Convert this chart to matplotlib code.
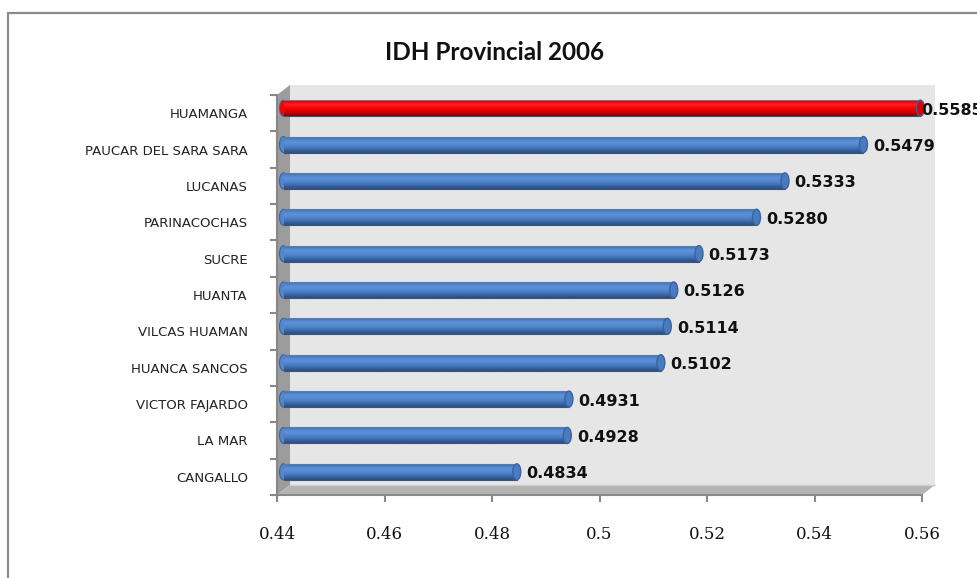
import numpy as np
import matplotlib
matplotlib.use('Agg')
import matplotlib.pyplot as plt
import matplotlib.transforms as mtransforms
from matplotlib.patches import Rectangle, Polygon, Ellipse

# data (top to bottom as in the chart)
provinces = ['HUAMANGA', 'PAUCAR DEL SARA SARA', 'LUCANAS', 'PARINACOCHAS', 'SUCRE',
             'HUANTA', 'VILCAS HUAMAN', 'HUANCA SANCOS', 'VICTOR FAJARDO', 'LA MAR', 'CANGALLO']
idh = [0.5585, 0.5479, 0.5333, 0.5280, 0.5173, 0.5126, 0.5114, 0.5102, 0.4931, 0.4928, 0.4834]
xticks = [0.44, 0.46, 0.48, 0.50, 0.52, 0.54, 0.56]
xtick_labels = ['0.44', '0.46', '0.48', '0.5', '0.52', '0.54', '0.56']

W, H = 978, 578
fig = plt.figure(figsize=(W / 100, H / 100), dpi=100)
fig.patch.set_facecolor('white')

# front plane of the 3D plot, in pixels
x0p, x1p, y0p, y1p = 277, 922, 95, 495
ax = fig.add_axes([x0p / W, 1 - y1p / H, (x1p - x0p) / W, (y1p - y0p) / H])
ax.set_facecolor('none')
xmin, xmax = 0.44, 0.56
n = len(provinces)
for s in ax.spines.values():
    s.set_visible(False)

# depth of the "3D" box, in data units
ddx = 13 * (xmax - xmin) / (x1p - x0p)
ddy = 10 * n / (y1p - y0p)
ybot, ytop = -0.5, n - 0.5

# back wall, side wall, floor
ax.add_patch(Rectangle((xmin + ddx, ybot + ddy), xmax - xmin, n, facecolor='#e6e6e6',
                       edgecolor='none', clip_on=False, zorder=0))
ax.add_patch(Polygon([(xmin, ybot), (xmin, ytop), (xmin + ddx, ytop + ddy), (xmin + ddx, ybot + ddy)],
                     closed=True, facecolor='#9c9c9c', edgecolor='none', clip_on=False, zorder=1))
ax.add_patch(Polygon([(xmin, ybot), (xmax, ybot), (xmax + ddx, ybot + ddy), (xmin + ddx, ybot + ddy)],
                     closed=True, facecolor='#b4b4b4', edgecolor='none', clip_on=False, zorder=1))
ax.plot([xmin + ddx, xmax + ddx], [ybot + ddy, ybot + ddy], color='#cdcdcd', lw=1, clip_on=False, zorder=1)

# axis lines
ax.plot([xmin, xmin], [ybot, ytop], color='#888888', lw=1.5, clip_on=False, zorder=2)
ax.plot([xmin, xmax], [ybot, ybot], color='#888888', lw=1.5, clip_on=False, zorder=2)

# bars (drawn at mid depth)
ypos = np.arange(n)[::-1]
h = 0.44
blue_prof = ['#4a74ad', '#5186cc', '#5b90d8', '#5a8ed6', '#5287cd', '#4a7dc2', '#416fb0', '#36609c', '#2d5289']
red_prof = ['#d00000', '#ff0a0a', '#ff1e1e', '#ff1212', '#fa0000', '#e80000', '#d40000', '#b80000', '#8c0000']


def hex2rgb(c):
    return [int(c[i:i + 2], 16) / 255 for i in (1, 3, 5)]


capw = 8 * (xmax - xmin) / (x1p - x0p)
for i, (yv, v) in enumerate(zip(ypos, idh)):
    prof = red_prof if i == 0 else blue_prof
    grad = np.array([[hex2rgb(c)] for c in prof])
    bx = xmin + ddx / 2
    by = yv + ddy / 2
    ax.add_patch(Ellipse((bx, by), capw, h, facecolor=prof[4], edgecolor='#3b64a0', lw=0.8,
                         clip_on=False, zorder=3))
    bar = ax.barh(by, v - xmin, left=bx, height=h, color=prof[4], edgecolor='none', zorder=3,
                  clip_on=False)[0]
    img = ax.imshow(grad, extent=(bx, v + ddx / 2, by - h / 2, by + h / 2), aspect='auto',
                    interpolation='bilinear', zorder=4, origin='upper')
    img.set_clip_path(bar)
    ax.plot([bx, v + ddx / 2], [by + h / 2, by + h / 2], color='#5b7bab', lw=0.8, zorder=5, clip_on=False)
    ax.plot([bx, v + ddx / 2], [by - h / 2, by - h / 2], color='#34557f', lw=0.8, zorder=5, clip_on=False)
    ax.add_patch(Ellipse((v + ddx / 2, by), capw, h, facecolor='#4a7bc0' if i else '#e00000',
                         edgecolor='#3a63a0', lw=1.0, clip_on=False, zorder=6))
    dx_lab = 7 if i == 0 else 16
    lab_tr = mtransforms.offset_copy(ax.transData, fig=fig, x=dx_lab, y=-2, units='dots')
    ax.text(v, yv + ddy / 2, f'{v:.4f}', transform=lab_tr, ha='left', va='center',
            fontsize=11.5, fontweight='bold', family='DejaVu Sans', color='#111111',
            zorder=7, clip_on=False)

ax.set_xlim(xmin, xmax)
ax.set_ylim(-0.5, n - 0.5)

# ticks
ax.set_yticks(ypos)
ax.set_yticklabels(provinces, fontsize=9.5, color='#222222')
ax.set_yticks(np.arange(n + 1) - 0.5, minor=True)
ax.tick_params(axis='y', which='major', length=0, pad=21)
ax.tick_params(axis='y', which='minor', length=5, width=1.5, color='#888888')
ax.set_xticks(xticks)
ax.set_xticklabels(xtick_labels, fontsize=12, family='DejaVu Serif', color='#111111')
ax.tick_params(axis='x', length=5, width=1.5, color='#888888', pad=17)

# title
fig.text(495 / W, 1 - 53 / H, 'IDH Provincial 2006', ha='center', va='center',
         fontsize=17.5, fontweight='bold', family='Lato', color='#111111')

# outer chart border
fig.patches.append(Rectangle((8 / W, -0.2), 2, 1.2 - 13 / H, transform=fig.transFigure,
                             fill=False, edgecolor='#8c8c8c', lw=1.6, figure=fig))

fig.savefig('out.png', dpi=100)
